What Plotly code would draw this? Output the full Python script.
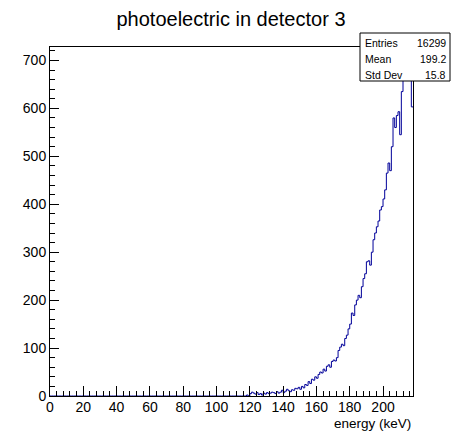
import plotly.graph_objects as go

# Histogram: 1 keV bins from 0 to 218 keV
bin_width = 1.0
x_min = 0.0
x_max = 218.0
first_nonzero_bin = 118
counts_from_118 = [
    2, 0, 5, 8, 6, 4, 7, 3, 5, 2,          # 118-127
    6, 4, 7, 5, 6, 8, 7, 5, 9, 6,          # 128-137
    8, 12, 7, 10, 14, 11, 9, 13, 12, 16,   # 138-147
    15, 18, 14, 20, 17, 24, 22, 30, 26, 35,  # 148-157
    33, 40, 37, 45, 50, 48, 56, 52, 62, 65,  # 158-167
    60, 72, 75, 73, 80, 95, 102, 108, 105, 120,  # 168-177
    127, 140, 150, 173, 168, 190, 200, 210, 205, 228,  # 178-187
    245, 255, 280, 282, 273, 300, 326, 340, 353, 365,  # 188-197
    388, 395, 411, 430, 465, 486, 470, 520, 580, 560,  # 198-207
    585, 593, 545, 635, 680, 660, 693, 670, 685, 603,  # 208-217
]

title_text = "photoelectric in detector 3"
x_title = "energy (keV)"
stats_labels = ["Entries", "Mean", "Std Dev"]
stats_values = ["16299", "199.2", "15.8"]

n_bins = int(round((x_max - x_min) / bin_width))
counts = [0] * first_nonzero_bin + counts_from_118
counts = counts[:n_bins] + [0] * max(0, n_bins - len(counts))
edges = [x_min + i * bin_width for i in range(n_bins + 1)]
xs = edges
ys = counts + [counts[-1]]

FONT = "Liberation Sans, Arial, Helvetica, sans-serif"

fig = go.Figure()
fig.add_trace(go.Scatter(
    x=xs, y=ys, mode="lines", line=dict(shape="hv", color="#000099", width=1),
    hoverinfo="skip", showlegend=False,
))

fig.update_layout(
    width=462, height=434,
    margin=dict(l=50, r=49, t=47, b=38),
    paper_bgcolor="white", plot_bgcolor="white",
    font=dict(family=FONT, color="black", size=14),
    title=dict(text=title_text, x=0.5, xanchor="center", y=1 - 19 / 434, yanchor="middle",
               font=dict(size=20, family=FONT, color="black")),
    showlegend=False,
)

fig.update_xaxes(
    range=[x_min, x_max], showgrid=False, zeroline=False,
    showline=True, linecolor="black", linewidth=1, mirror=True,
    ticks="inside", ticklen=10, tickwidth=1, tickcolor="black",
    tick0=0, dtick=20,
    minor=dict(ticks="inside", ticklen=5, dtick=4, tick0=0, tickcolor="black", showgrid=False),
    tickfont=dict(size=14, family=FONT), ticklabelstandoff=-2,
)
fig.update_yaxes(
    range=[0, 728], showgrid=False, zeroline=False,
    showline=True, linecolor="black", linewidth=1, mirror=True,
    ticks="inside", ticklen=9, tickwidth=1, tickcolor="black",
    tick0=0, dtick=100,
    minor=dict(ticks="inside", ticklen=5, dtick=20, tick0=0, tickcolor="black", showgrid=False),
    tickfont=dict(size=14, family=FONT), ticklabelstandoff=0,
)

# x-axis title at bottom right
fig.add_annotation(
    text=x_title, xref="paper", yref="paper", x=1.0, y=-27 / 349,
    xanchor="right", yanchor="middle", showarrow=False,
    font=dict(size=13.5, family=FONT, color="black"),
)

# Stats box (pixel geometry converted to paper coords)
def px_x(p):
    return (p - 50) / 363.0

def px_y(p):
    return (396 - p) / 349.0

fig.add_shape(type="rect", xref="paper", yref="paper",
              x0=px_x(360), x1=px_x(450), y0=px_y(81), y1=px_y(33),
              line=dict(color="black", width=1), fillcolor="white", layer="above")
row_y = [43, 59, 75]
for lab, val, ry in zip(stats_labels, stats_values, row_y):
    fig.add_annotation(text=lab, xref="paper", yref="paper", x=px_x(363), y=px_y(ry),
                       xanchor="left", yanchor="middle", showarrow=False,
                       font=dict(size=10.5, family=FONT, color="black"))
    fig.add_annotation(text=val, xref="paper", yref="paper", x=px_x(448), y=px_y(ry),
                       xanchor="right", yanchor="middle", showarrow=False,
                       font=dict(size=10.5, family=FONT, color="black"))

fig.write_html("out.html", config={"displayModeBar": False},
               post_script="document.body.style.margin='0';")
